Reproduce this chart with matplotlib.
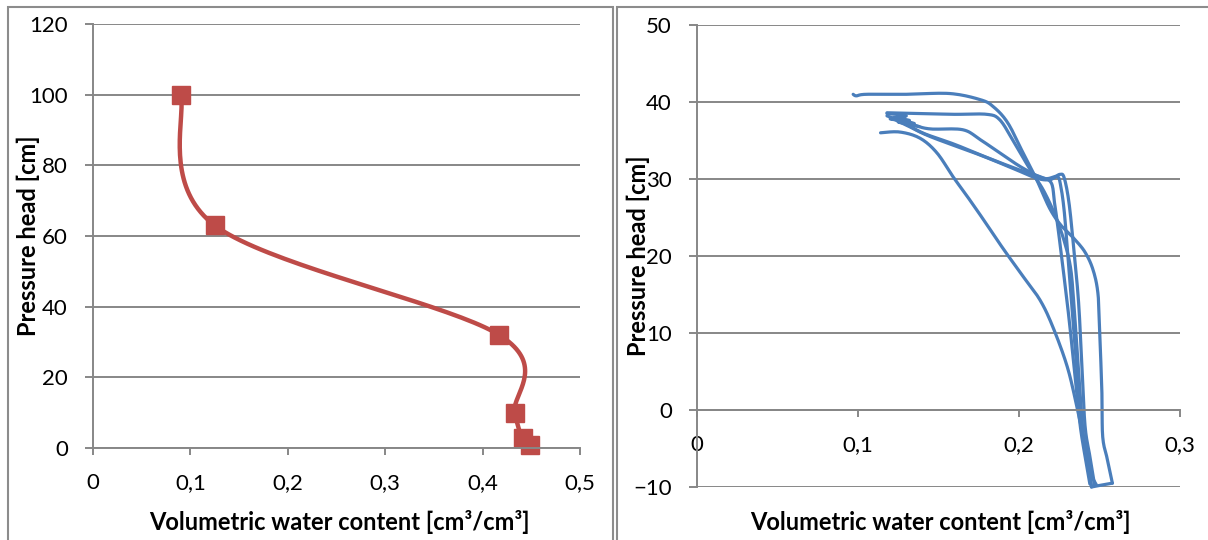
import numpy as np
import matplotlib.pyplot as plt
from matplotlib.patches import Rectangle

plt.rcParams['font.family'] = ['Lato', 'DejaVu Sans']

RED = '#be4b48'
BLUE = '#4a7ebb'
GRID = '#878787'

# left chart: measured retention points
theta_left = [0.090, 0.125, 0.417, 0.433, 0.441, 0.449]
head_left = [100, 63, 32, 10, 2.8, 0.9]

# right chart: drying / wetting loops (theta, head)
loop1_x = [0.258, 0.255, 0.252, 0.2515, 0.250, 0.249, 0.246, 0.241, 0.234, 0.226, 0.219,
           0.211, 0.2025, 0.193, 0.184, 0.176, 0.157, 0.130, 0.105, 0.099, 0.097]
loop1_y = [-9.5, -6.5, -3.5, 2.2, 10.8, 15.2, 18.2, 20.5, 22.3, 24.0, 26.2,
           29.9, 33.4, 37.3, 39.4, 40.3, 41.1, 41.0, 41.0, 40.8, 41.0]

loop2_x = [0.118, 0.140, 0.160, 0.180, 0.188, 0.196, 0.207, 0.215, 0.222, 0.228,
           0.232, 0.234, 0.236, 0.238, 0.240, 0.243, 0.248]
loop2_y = [38.6, 38.5, 38.4, 38.4, 37.7, 35.1, 31.2, 28.6, 25.5, 22.0,
           18.5, 14.0, 8.0, 2.0, -3.5, -7.5, -9.7]

loop3_x = [0.125, 0.135, 0.145, 0.165, 0.176, 0.190, 0.2025, 0.215, 0.222, 0.2255,
           0.228, 0.231, 0.234, 0.237, 0.239, 0.241, 0.244, 0.247]
loop3_y = [37.8, 37.0, 36.5, 36.4, 35.1, 33.1, 31.4, 30.1, 30.3, 30.6,
           30.2, 27.0, 21.0, 14.0, 6.0, -2.0, -6.0, -9.8]

wet1_x = [0.120, 0.130, 0.145, 0.176, 0.196, 0.211, 0.219, 0.224, 0.226, 0.228,
          0.230, 0.233, 0.236, 0.239, 0.242, 0.245]
wet1_y = [38.0, 37.0, 35.5, 33.1, 31.4, 30.1, 29.9, 30.3, 29.0, 26.0,
          21.0, 13.0, 5.0, -2.0, -6.0, -9.9]

wet2_x = [0.118, 0.128, 0.140, 0.160, 0.180, 0.200, 0.213, 0.220, 0.222, 0.224,
          0.227, 0.231, 0.235, 0.238, 0.241, 0.244]
wet2_y = [38.2, 37.4, 36.0, 34.5, 32.8, 31.2, 30.3, 29.5, 27.0, 24.0,
          19.0, 12.0, 4.0, -2.0, -6.0, -9.6]

wet3_x = [0.114, 0.126, 0.1385, 0.149, 0.159, 0.168, 0.178, 0.190, 0.202, 0.213,
          0.221, 0.230, 0.236, 0.240, 0.243, 0.245]
wet3_y = [36.0, 36.1, 35.3, 33.4, 30.3, 27.7, 24.7, 21.0, 17.5, 14.3,
          10.8, 5.6, 0.4, -3.5, -6.5, -10.0]

tangle_x = [0.118, 0.130, 0.120, 0.132, 0.122, 0.135, 0.125, 0.138]
tangle_y = [38.5, 38.2, 37.8, 37.6, 37.9, 37.2, 37.4, 36.8]

bottom_x = [0.245, 0.250, 0.258]
bottom_y = [-10.0, -9.8, -9.5]

right_series = [(loop1_x, loop1_y), (loop2_x, loop2_y), (loop3_x, loop3_y),
                (wet1_x, wet1_y), (wet2_x, wet2_y), (wet3_x, wet3_y),
                (tangle_x, tangle_y), (bottom_x, bottom_y)]


def smooth_curve(ax, xs, ys, n=40):
    # bezier smoothing done in screen space, like spreadsheet "smoothed line"
    pts = ax.transData.transform(np.column_stack([xs, ys]))
    segs = []
    t = np.linspace(0, 1, n)[:, None]
    for i in range(len(pts) - 1):
        p0 = pts[max(i - 1, 0)]
        p1 = pts[i]
        p2 = pts[i + 1]
        p3 = pts[min(i + 2, len(pts) - 1)]
        c1 = p1 + (p2 - p0) / 6
        c2 = p2 - (p3 - p1) / 6
        segs.append((1 - t) ** 3 * p1 + 3 * (1 - t) ** 2 * t * c1
                    + 3 * (1 - t) * t ** 2 * c2 + t ** 3 * p2)
    out = ax.transData.inverted().transform(np.vstack(segs))
    return out[:, 0], out[:, 1]


def style_axes(ax):
    ax.grid(axis='y', color=GRID, linewidth=1.4)
    ax.set_axisbelow(True)
    for s in ['top', 'right']:
        ax.spines[s].set_visible(False)
    for s in ['left', 'bottom']:
        ax.spines[s].set_color(GRID)
        ax.spines[s].set_linewidth(1.4)
    ax.tick_params(axis='y', length=6, width=1.4, color=GRID, pad=12, labelsize=16)
    ax.tick_params(axis='x', length=5, width=1.4, color=GRID, pad=13, labelsize=16)
    ax.set_ylabel('Pressure head [cm]', fontsize=17, fontweight='bold')


def comma(v, pos):
    return ('%g' % v).replace('.', ',')


W, H = 1208, 540
fig = plt.figure(figsize=(W / 100, H / 100), dpi=100)

# panel frames
fig.add_artist(Rectangle((8 / W, -0.05), 605 / W, 1.05 - 7 / H, transform=fig.transFigure,
                         fill=False, edgecolor='#8c8c8c', linewidth=1.5))
fig.add_artist(Rectangle((617 / W, -0.05), 0.6, 1.05 - 7 / H, transform=fig.transFigure,
                         fill=False, edgecolor='#8c8c8c', linewidth=1.5))

# left chart
ax1 = fig.add_axes([93 / W, 1 - 448 / H, 487 / W, 424 / H])
ax1.set_xlim(0, 0.5)
ax1.set_ylim(0, 120)
ax1.set_xticks(np.arange(0, 0.51, 0.1))
ax1.set_yticks(np.arange(0, 121, 20))
ax1.xaxis.set_major_formatter(comma)
style_axes(ax1)
ax1.yaxis.set_label_coords(-0.108, 0.5)
sx, sy = smooth_curve(ax1, theta_left, head_left)
ax1.plot(sx, sy, color=RED, linewidth=3.2, solid_capstyle='round', clip_on=False)
ax1.plot(theta_left, head_left, linestyle='none', marker='s', markersize=13,
         color=RED, clip_on=False)

# right chart
ax2 = fig.add_axes([697 / W, 1 - 487 / H, 483 / W, 462 / H])
ax2.set_xlim(0, 0.3)
ax2.set_ylim(-10, 50)
ax2.set_xticks(np.arange(0, 0.31, 0.1))
ax2.set_yticks(np.arange(-10, 51, 10))
ax2.xaxis.set_major_formatter(comma)
style_axes(ax2)
ax2.spines['bottom'].set_position(('data', 0))
ax2.yaxis.set_label_coords(-0.097, 0.5)
for xs, ys in right_series:
    bx, by = smooth_curve(ax2, xs, ys, n=12)
    ax2.plot(bx, by, color=BLUE, linewidth=2.3, solid_joinstyle='round',
             solid_capstyle='round', clip_on=False)

label = 'Volumetric water content [cm³/cm³]'
fig.text(339 / W, 1 - 522 / H, label, ha='center', va='center',
         fontsize=17, fontweight='bold')
fig.text(940 / W, 1 - 522 / H, label, ha='center', va='center',
         fontsize=17, fontweight='bold')

fig.savefig('out.png', dpi=100)
